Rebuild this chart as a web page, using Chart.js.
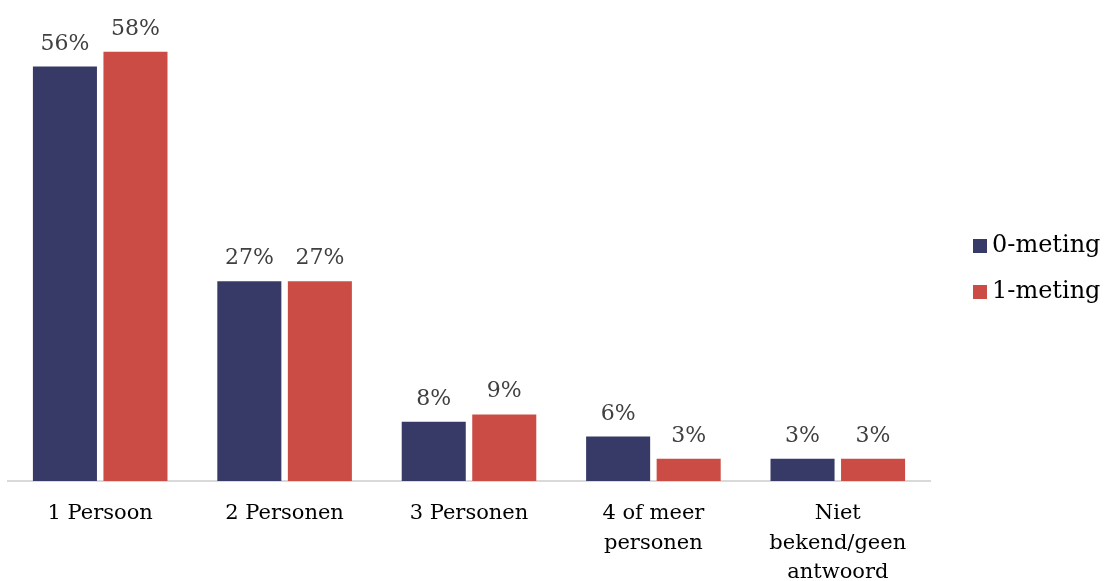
<!DOCTYPE html>
<html>
<head>
<meta charset="utf-8">
<script src="https://cdn.jsdelivr.net/npm/chart.js@4.4.1/dist/chart.umd.min.js"></script>
<style>
  html, body { margin: 0; padding: 0; background: #ffffff; }
  #wrap { width: 1111px; height: 581px; }
</style>
</head>
<body>
<div id="wrap"><canvas id="chart" width="1111" height="581"></canvas></div>
<script>
// Huishoudgrootte: aandeel per meting
const categories = [
  '1 Persoon',
  '2 Personen',
  '3 Personen',
  ['4 of meer', 'personen'],
  ['Niet', 'bekend/geen', 'antwoord']
];
const seriesNames = ['0-meting', '1-meting'];
const meting0 = [56, 27, 8, 6, 3];
const meting1 = [58, 27, 9, 3, 3];

const NAVY = '#373a66';
const RED = '#cb4c44';
const FONT = '"DejaVu Serif", "Liberation Serif", serif';

// Percentage labels above each bar
const valueLabels = {
  id: 'valueLabels',
  afterDatasetsDraw(chart) {
    const ctx = chart.ctx;
    ctx.save();
    ctx.font = '22px ' + FONT;
    ctx.fillStyle = '#404040';
    ctx.textAlign = 'center';
    ctx.textBaseline = 'alphabetic';
    chart.data.datasets.forEach((ds, i) => {
      chart.getDatasetMeta(i).data.forEach((bar, j) => {
        ctx.fillText(ds.data[j] + '%', bar.x, bar.y - 17);
      });
    });
    ctx.restore();
  }
};

// Legend drawn to the right of the plot
const sideLegend = {
  id: 'sideLegend',
  afterDraw(chart) {
    const ctx = chart.ctx;
    ctx.save();
    ctx.font = '24px ' + FONT;
    ctx.textAlign = 'left';
    ctx.textBaseline = 'middle';
    chart.data.datasets.forEach((ds, i) => {
      const cy = 246 + i * 46;
      ctx.fillStyle = ds.backgroundColor;
      ctx.fillRect(973, cy - 7, 14, 14);
      ctx.fillStyle = '#000000';
      ctx.fillText(ds.label, 992, cy);
    });
    ctx.restore();
  }
};

new Chart(document.getElementById('chart'), {
  type: 'bar',
  data: {
    labels: categories,
    datasets: [
      { label: seriesNames[0], data: meting0, backgroundColor: NAVY },
      { label: seriesNames[1], data: meting1, backgroundColor: RED }
    ]
  },
  options: {
    responsive: false,
    animation: false,
    layout: { padding: { left: 8, right: 181, top: 37, bottom: 0 } },
    datasets: {
      bar: { categoryPercentage: 0.765, barPercentage: 0.908 }
    },
    plugins: {
      legend: { display: false },
      tooltip: { enabled: false }
    },
    scales: {
      x: {
        grid: { display: false, drawTicks: false },
        border: { display: true, color: '#d9d9d9', width: 2 },
        ticks: {
          color: '#000000',
          font: { family: FONT, size: 21, lineHeight: 1.4 },
          padding: 18,
          maxRotation: 0,
          autoSkip: false
        },
        afterFit(scale) { scale.height = 100; }
      },
      y: {
        display: false,
        min: 0,
        max: 60
      }
    }
  },
  plugins: [valueLabels, sideLegend]
});
</script>
</body>
</html>
